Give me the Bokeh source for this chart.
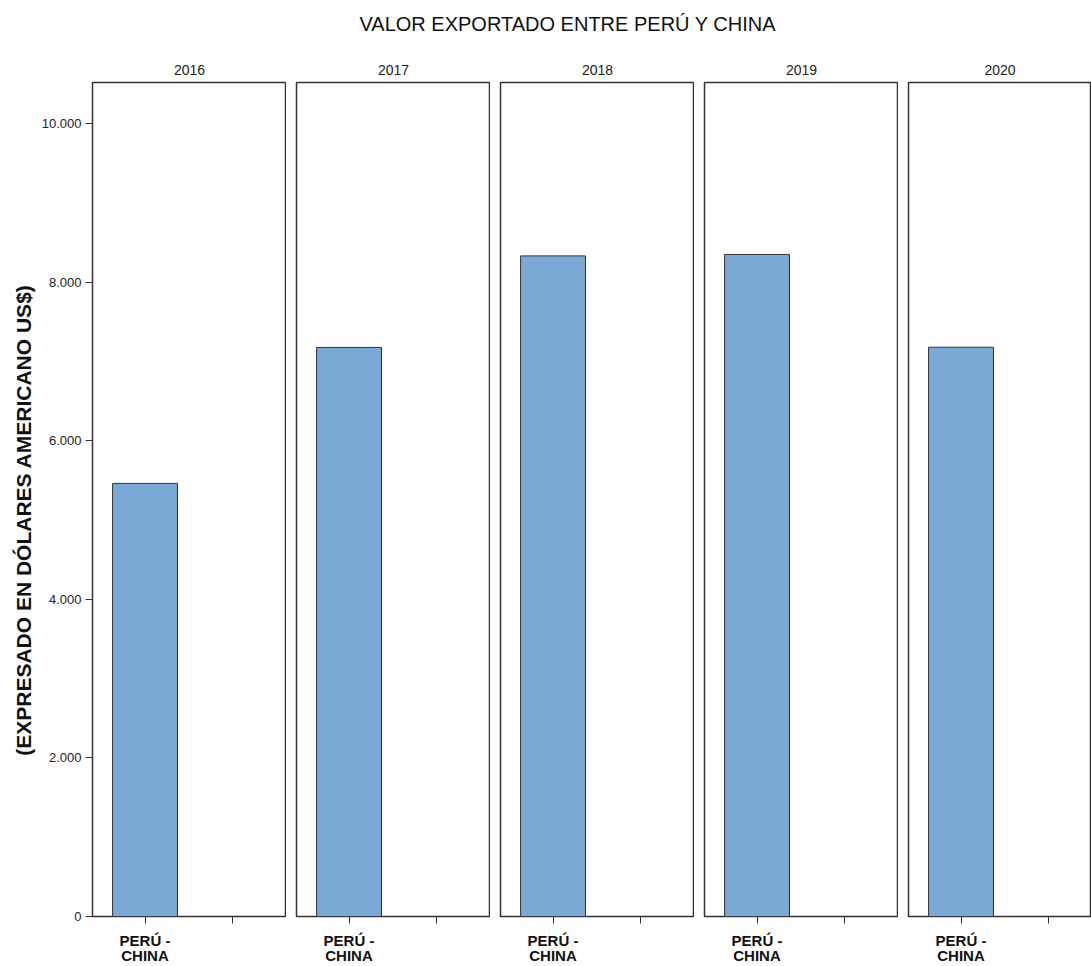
import math
from bokeh.plotting import figure
from bokeh.layouts import row, column
from bokeh.models import Range1d, FixedTicker, ColumnDataSource
from bokeh.core.properties import value
from bokeh.embed import file_html
from bokeh.resources import INLINE

# ---------------- data ----------------
years = ["2016", "2017", "2018", "2019", "2020"]
categories = ["PERÚ -\nCHINA", ""]
peru_china = [5463, 7178, 8333, 8351, 7181]
other = [0, 0, 0, 0, 0]
y_ticks = [0, 2000, 4000, 6000, 8000, 10000]
y_tick_labels = ["0", "2.000", "4.000", "6.000", "8.000", "10.000"]
title_text = "VALOR EXPORTADO ENTRE PERÚ Y CHINA"
y_label = "(EXPRESADO EN DÓLARES AMERICANO US$)"

# ---------------- style / layout ----------------
TITLE_H = 49
FRAME_H = 834
TOP = 33
BOT = 50
Y_MAX = 10520
UNIT = 87.7          # px per category
X0 = -0.599
BAR_FILL = "#7BA8D5"
LINE = "#333333"
SANS = "Liberation Sans"
LAB_W = 38
FIRST_LEFT = 54

def bare(p):
    p.axis.visible = False
    p.grid.visible = False
    p.outline_line_color = None

# title strip
title_fig = figure(width=1091, height=TITLE_H, x_range=Range1d(0, 1), y_range=Range1d(0, 1),
                   min_border=0, output_backend="svg", toolbar_location=None)
bare(title_fig)
title_fig.text(x=[0.52], y=[0.53], text=[title_text], text_align="center",
               text_baseline="middle", text_font=value(SANS), text_font_size="20px",
               text_color="#111111")

# y-axis label strip
lab = figure(width=LAB_W, height=TOP + FRAME_H + BOT, x_range=Range1d(0, 1),
             y_range=Range1d(0, Y_MAX), min_border_left=0, min_border_right=0,
             min_border_top=TOP, min_border_bottom=BOT, output_backend="svg",
             toolbar_location=None)
bare(lab)
lab.text(x=[0.6], y=[(y_ticks[0] + y_ticks[-1]) / 2], text=[y_label], angle=math.pi / 2,
         text_align="center", text_baseline="middle", text_font=value(SANS),
         text_font_style="bold", text_font_size="21px", text_color="#111111")

panels = []
for i, yr in enumerate(years):
    first = i == 0
    last = i == len(years) - 1
    fw = 183 if last else 194
    left = FIRST_LEFT if first else 10
    p = figure(width=left + fw, height=TOP + FRAME_H + BOT,
               x_range=Range1d(X0, X0 + fw / UNIT), y_range=Range1d(0, Y_MAX),
               min_border_left=left, min_border_right=0, min_border_top=TOP,
               min_border_bottom=BOT, output_backend="svg", toolbar_location=None,
               title=yr)
    p.title.align = "center"
    p.title.text_font = SANS
    p.title.text_font_size = "14px"
    p.title.text_font_style = "normal"
    p.title.text_color = "#222222"
    p.title.standoff = 15

    src = ColumnDataSource(dict(x=list(range(len(categories))),
                                top=[peru_china[i], other[i]]))
    p.vbar(x="x", top="top", bottom=0, width=0.74, source=src,
           fill_color=BAR_FILL, line_color=LINE, line_width=1)

    p.grid.visible = False
    p.outline_line_color = LINE
    p.outline_line_width = 1.5

    xa = p.xaxis[0]
    xa.ticker = FixedTicker(ticks=list(range(len(categories))))
    xa.major_label_overrides = {k: c for k, c in enumerate(categories)}
    xa.axis_line_color = None
    xa.major_tick_out = 7
    xa.major_tick_in = 0
    xa.major_tick_line_color = LINE
    xa.minor_tick_line_color = None
    xa.major_label_text_font = SANS
    xa.major_label_text_font_style = "bold"
    xa.major_label_text_font_size = "15px"
    xa.major_label_text_line_height = 0.9
    xa.major_label_text_color = "#111111"
    xa.major_label_standoff = 8

    if first:
        ya = p.yaxis[0]
        ya.ticker = FixedTicker(ticks=y_ticks)
        ya.major_label_overrides = {t: l for t, l in zip(y_ticks, y_tick_labels)}
        ya.axis_line_color = None
        ya.major_tick_out = 7
        ya.major_tick_in = 0
        ya.major_tick_line_color = LINE
        ya.minor_tick_line_color = None
        ya.major_label_text_font = SANS
        ya.major_label_text_font_size = "13px"
        ya.major_label_text_color = "#222222"
        ya.major_label_standoff = 4
    else:
        p.yaxis.visible = False
    panels.append(p)

layout = column(title_fig, row(lab, *panels))
open("out.html", "w").write(file_html(layout, INLINE))
